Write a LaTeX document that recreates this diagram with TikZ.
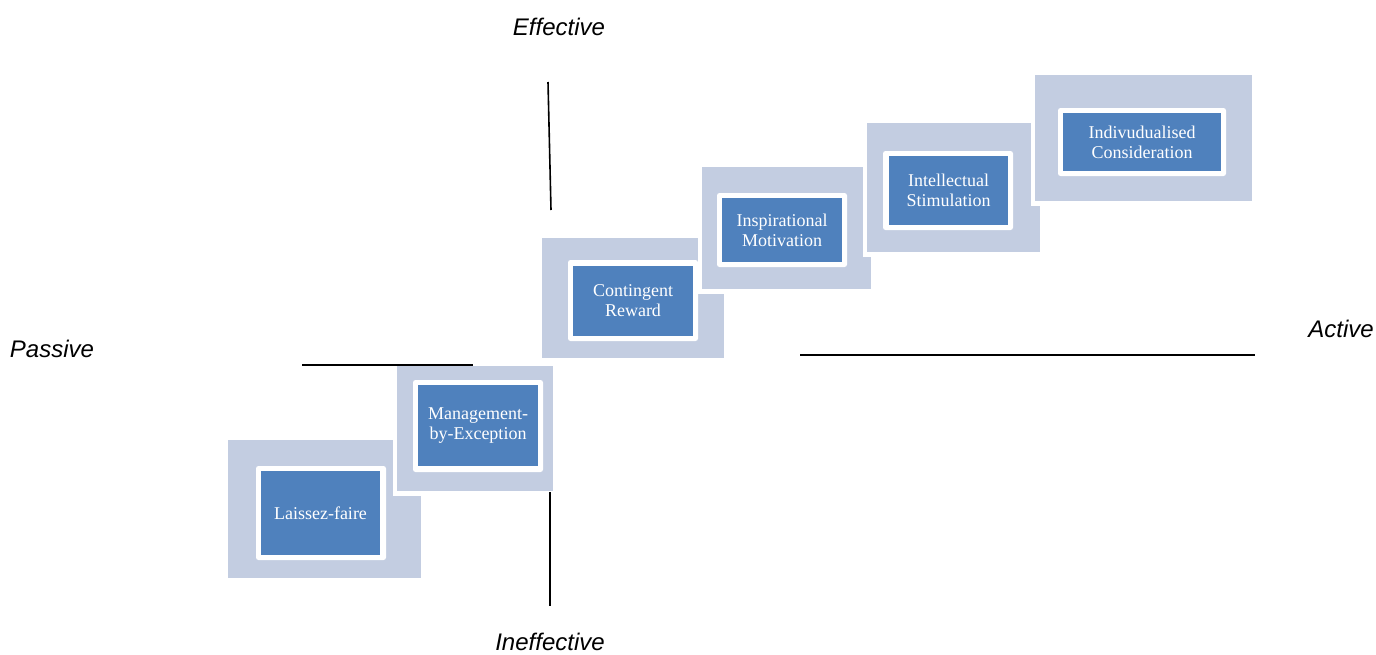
\documentclass[tikz,border=0pt]{standalone}
\usepackage{fontspec}
\setmainfont{Liberation Serif}
\newfontfamily\axisfont{Liberation Sans}
\usetikzlibrary{calc}
\definecolor{paleblue}{RGB}{195,205,225}
\definecolor{midblue}{RGB}{79,129,189}
\begin{document}
\begin{tikzpicture}[x=1pt,y=-1pt,
  halo/.style={fill=white},
  outerbox/.style={fill=paleblue},
  frame/.style={fill=white, rounded corners=2.5pt},
  core/.style={fill=midblue},
  boxtext/.style={text=white, align=center, inner sep=0pt,
    font=\fontsize{18}{20}\selectfont},
  axislabel/.style={inner sep=0pt, font=\axisfont\itshape\fontsize{24}{28}\selectfont},
  axisline/.style={line width=1.6pt, black}]
\useasboundingbox (0,0) rectangle (1376,654);

% one level of the staircase: pale panel with a white halo,
% white frame and blue core carrying the label
% #1 name, #2/#3 panel corners, #4/#5 frame corners, #6/#7 core corners, #8 text
\newcommand\levelbox[8]{%
  \fill[halo] ([shift={(-4.5,-4.5)}]#2) rectangle ([shift={(4.5,4.5)}]#3);
  \fill[outerbox] (#2) rectangle (#3);
  \fill[frame] (#4) rectangle (#5);
  \fill[core] (#6) rectangle (#7);
  \node[boxtext] (#1) at ($(#6)!0.5!(#7)$) {#8};
}

\levelbox{lf}{228,440}{421,578}{256,466}{386,560}{261,471}{380,555}{Laissez-faire}
\levelbox{mbe}{397,366}{553,491}{413,380}{543,472}{418,385}{538,466}{Management-\\by-Exception}
\levelbox{cr}{542,238}{724,358}{568,260}{698,341}{573,266}{693,336}{Contingent\\Reward}
\levelbox{im}{702,167}{871,289}{717,193}{847,267}{722,198}{842,262}{Inspirational\\Motivation}
\levelbox{is}{867,123}{1040,252}{883,151}{1013,230}{889,156}{1008,225}{Intellectual\\Stimulation}
\levelbox{ic}{1035,75}{1252,201}{1058,108}{1226,176}{1063,113}{1221,171}{Indivudualised\\Consideration}

% axis pieces
\coordinate (effTop) at (548,82);
\coordinate (effBot) at (551,210);
\coordinate (ineTop) at (550,492);
\coordinate (ineBot) at (550,606);
\coordinate (pasL) at (302,365);
\coordinate (pasR) at (473,365);
\coordinate (actL) at (800,355);
\coordinate (actR) at (1255,355);
\draw[axisline] (effTop) -- (effBot);
\draw[axisline] (ineTop) -- (ineBot);
\draw[axisline] (pasL) -- (pasR);
\draw[axisline] (actL) -- (actR);

% axis labels
\node[axislabel] (eff) at (559,27) {Effective};
\node[axislabel] (ineff) at (550,642) {Ineffective};
\node[axislabel] (pas) at (52,349) {Passive};
\node[axislabel] (act) at (1341,329) {Active};
\end{tikzpicture}
\end{document}
